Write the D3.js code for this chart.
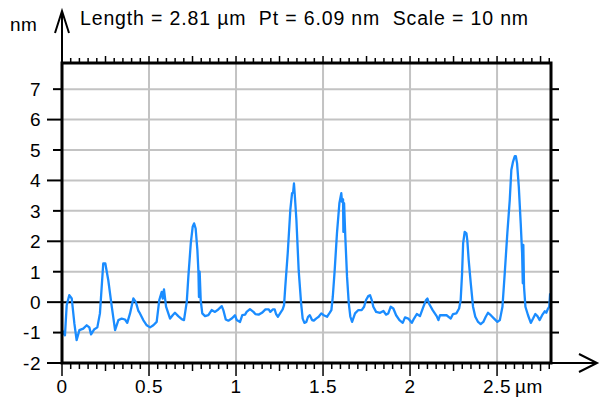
<!DOCTYPE html>
<html><head><meta charset="utf-8">
<script src="https://cdn.jsdelivr.net/npm/d3@7/dist/d3.min.js"></script>
<style>
body{margin:0;background:#fff}
svg{display:block}
text{font-family:"Liberation Sans",Arial,sans-serif;fill:#000;font-size:19px;letter-spacing:0.5px}
text.title{font-size:19.5px;letter-spacing:0.85px}
</style>
</head><body>
<svg id="c" width="600" height="399"></svg>
<script>
const titleText = "Length = 2.81 µm  Pt = 6.09 nm  Scale = 10 nm";
const xUnit = "µm";
const yUnit = "nm";
const xDomain = [0, 2.81];
const yDomain = [-2, 7.86];
const yTickValues = [-2, -1, 0, 1, 2, 3, 4, 5, 6, 7];
const xTickValues = [0, 0.5, 1, 1.5, 2, 2.5];
const xTickLabels = ["0", "0.5", "1", "1.5", "2", "2.5"];

// profile: distance (µm)
const profileX = [0.000,0.017,0.027,0.042,0.056,0.071,0.084,0.100,0.122,0.142,0.157,0.167,0.184,0.203,0.218,0.237,0.249,0.266,0.286,0.305,
0.324,0.343,0.362,0.375,0.391,0.410,0.424,0.439,0.448,0.467,0.487,0.506,0.525,0.544,0.559,0.573,0.579,0.586,0.598,0.621,
0.636,0.649,0.668,0.688,0.701,0.717,0.726,0.740,0.751,0.759,0.768,0.778,0.784,0.787,0.791,0.797,0.806,0.822,0.841,0.860,
0.879,0.898,0.918,0.927,0.941,0.956,0.975,0.994,1.004,1.023,1.036,1.052,1.061,1.080,1.100,1.111,1.130,1.149,1.169,1.188,
1.197,1.211,1.222,1.230,1.241,1.255,1.268,1.276,1.283,1.297,1.312,1.322,1.328,1.333,1.337,1.347,1.360,1.374,1.383,1.393,
1.404,1.414,1.424,1.437,1.447,1.460,1.475,1.490,1.504,1.523,1.536,1.548,1.556,1.567,1.580,1.594,1.605,1.609,1.615,1.617,
1.621,1.628,1.638,1.648,1.657,1.667,1.684,1.703,1.722,1.736,1.747,1.760,1.770,1.780,1.789,1.805,1.828,1.847,1.862,1.875,
1.889,1.904,1.920,1.939,1.958,1.971,1.990,2.010,2.023,2.039,2.057,2.077,2.092,2.100,2.111,2.130,2.153,2.163,2.172,2.191,
2.210,2.234,2.247,2.266,2.282,2.291,2.299,2.305,2.314,2.324,2.329,2.337,2.349,2.362,2.375,2.391,2.406,2.421,2.435,2.448,
2.464,2.483,2.502,2.516,2.531,2.544,2.559,2.573,2.582,2.592,2.602,2.608,2.615,2.625,2.636,2.644,2.648,2.651,2.655,2.663,
2.678,2.694,2.707,2.720,2.732,2.745,2.759,2.774,2.783,2.793,2.800,2.805];
// profile: height (nm)
const profileY = [-0.92,-1.09,-0.10,0.23,0.12,-0.70,-1.25,-0.92,-0.87,-0.76,-0.83,-1.06,-0.90,-0.83,-0.37,1.27,1.27,0.72,-0.15,-0.92,
-0.59,-0.54,-0.57,-0.68,-0.37,0.12,0.01,-0.29,-0.37,-0.59,-0.76,-0.83,-0.76,-0.65,0.07,0.34,0.12,0.42,-0.15,-0.54,
-0.43,-0.35,-0.46,-0.56,-0.59,0.01,0.83,1.93,2.48,2.59,2.42,1.71,1.00,0.17,1.00,0.07,-0.37,-0.46,-0.43,-0.26,
-0.32,-0.24,-0.13,-0.26,-0.57,-0.61,-0.54,-0.43,-0.59,-0.65,-0.43,-0.41,-0.32,-0.23,-0.32,-0.39,-0.41,-0.35,-0.24,-0.24,
-0.32,-0.24,-0.24,-0.39,-0.48,-0.35,-0.24,-0.10,0.50,1.60,3.03,3.58,3.60,3.90,3.58,2.70,1.05,-0.04,-0.54,-0.68,
-0.65,-0.48,-0.43,-0.59,-0.61,-0.54,-0.48,-0.37,-0.43,-0.48,-0.37,-0.26,0.17,1.05,2.26,3.25,3.58,3.30,3.38,2.31,
3.25,2.15,0.83,-0.04,-0.48,-0.65,-0.37,-0.26,-0.26,-0.15,0.07,0.20,0.23,0.07,-0.15,-0.32,-0.35,-0.29,-0.41,-0.37,
-0.15,-0.21,-0.43,-0.59,-0.68,-0.50,-0.54,-0.68,-0.54,-0.39,-0.46,-0.15,0.07,0.12,-0.07,-0.26,-0.46,-0.59,-0.43,-0.43,
-0.43,-0.54,-0.39,-0.37,-0.21,0.07,0.94,1.93,2.31,2.26,2.04,1.38,0.62,-0.15,-0.48,-0.65,-0.72,-0.65,-0.48,-0.35,
-0.43,-0.54,-0.65,-0.59,-0.15,0.94,2.26,3.36,4.34,4.62,4.80,4.80,4.56,3.79,2.59,1.60,0.62,1.88,0.50,-0.15,
-0.43,-0.68,-0.54,-0.39,-0.46,-0.59,-0.43,-0.30,-0.35,-0.21,-0.15,0.29];

const svg = d3.select("#c");
const L = 62, R = 551, T = 63, B = 363;
const x = d3.scaleLinear().domain(xDomain).range([L, R]);
const y = d3.scaleLinear().domain(yDomain).range([B, T]);
const grid = "#c3c3c3";

// grid
svg.append("g").selectAll("line").data(yTickValues.filter(v => v !== 0 && v > yDomain[0]))
  .join("line").attr("x1", L).attr("x2", R).attr("y1", d => y(d)).attr("y2", d => y(d))
  .attr("stroke", grid).attr("stroke-width", 2);
svg.append("g").selectAll("line").data(xTickValues.filter(v => v > 0))
  .join("line").attr("x1", d => x(d)).attr("x2", d => x(d)).attr("y1", T).attr("y2", B)
  .attr("stroke", grid).attr("stroke-width", 2);
// zero line
svg.append("line").attr("x1", L).attr("x2", R).attr("y1", y(0)).attr("y2", y(0))
  .attr("stroke", "#000").attr("stroke-width", 2);

// profile
const pts = profileX.map((d, i) => [d, profileY[i]]);
svg.append("path").datum(pts)
  .attr("d", d3.line().x(d => x(d[0])).y(d => y(d[1])))
  .attr("fill", "none").attr("stroke", "#1a8cff").attr("stroke-width", 2.3)
  .attr("stroke-linejoin", "round");

// border
svg.append("rect").attr("x", L).attr("y", T).attr("width", R - L).attr("height", B - T)
  .attr("fill", "none").attr("stroke", "#000").attr("stroke-width", 3);

// x ticks (every 0.05)
const xMinor = d3.range(57).map(i => ({ v: i * 0.05, k: i % 10 === 0 ? 2 : (i % 5 === 0 ? 1 : 0) }));
const tg = svg.append("g").attr("stroke", "#000").attr("stroke-width", 1.5);
tg.selectAll(".bt").data(xMinor).join("line").attr("class", "bt")
  .attr("x1", d => x(d.v)).attr("x2", d => x(d.v))
  .attr("y1", B).attr("y2", d => B + (d.k === 2 ? 13 : d.k === 1 ? 8 : 6));
tg.selectAll(".tt").data(xMinor).join("line").attr("class", "tt")
  .attr("x1", d => x(d.v)).attr("x2", d => x(d.v))
  .attr("y1", T).attr("y2", d => T - (d.k >= 1 ? 7 : 5));
// y ticks
tg.selectAll(".lt").data(yTickValues).join("line").attr("class", "lt")
  .attr("x1", L).attr("x2", d => L - (d % 2 === 0 ? 15 : 9))
  .attr("y1", d => y(d)).attr("y2", d => y(d)).attr("stroke-width", 2);
tg.selectAll(".rt").data(yTickValues).join("line").attr("class", "rt")
  .attr("x1", R).attr("x2", R + 8)
  .attr("y1", d => y(d)).attr("y2", d => y(d)).attr("stroke-width", 2);

// arrows
const ag = svg.append("g").attr("stroke", "#000").attr("stroke-width", 2).attr("fill", "none");
ag.append("line").attr("x1", L).attr("x2", L).attr("y1", T).attr("y2", 11);
ag.append("polyline").attr("points", `${L - 7},33 ${L},11 ${L + 7},33`);
ag.append("line").attr("x1", R).attr("x2", 597).attr("y1", B).attr("y2", B);
ag.append("polyline").attr("points", `579,354 597,${B} 579,372`);

// labels
svg.append("g").selectAll("text").data(yTickValues).join("text")
  .attr("x", 41).attr("y", d => y(d)).attr("dy", "0.36em").attr("text-anchor", "end")
  .text(d => d);
svg.append("g").selectAll("text").data(xTickValues).join("text")
  .attr("x", d => x(d)).attr("y", 393).attr("text-anchor", "middle")
  .text((d, i) => xTickLabels[i]);
svg.append("text").attr("x", x(2.5) + 18).attr("y", 393).text(xUnit);
svg.append("text").attr("x", 10).attr("y", 31).text(yUnit);
svg.append("text").attr("class", "title").attr("x", 80).attr("y", 25)
  .style("white-space", "pre").attr("xml:space", "preserve").text(titleText);
</script>
</body></html>
